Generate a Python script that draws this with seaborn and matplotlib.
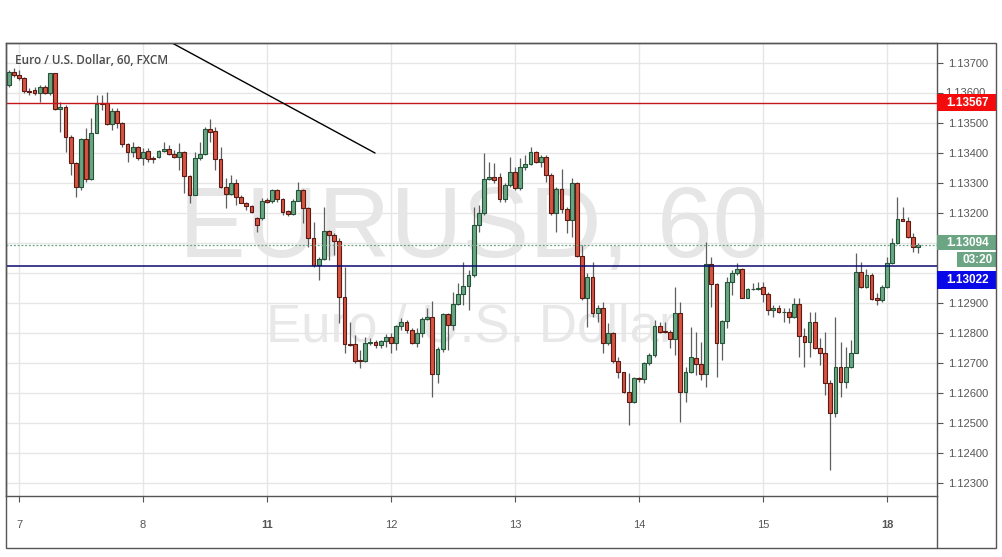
import matplotlib
matplotlib.use("Agg")
import matplotlib.pyplot as plt
from matplotlib.patches import Rectangle
from matplotlib.lines import Line2D
import seaborn as sns
import numpy as np
import pandas as pd

# ---------------- data (EUR/USD, 60 min candles) ----------------
opens = [1.13627, 1.13671, 1.13660, 1.13649, 1.13608, 1.13610, 1.13599, 1.13621, 1.13599, 1.13666,
         1.13546, 1.13554, 1.13452, 1.13366, 1.13286, 1.13446, 1.13312, 1.13468, 1.13568, 1.13568,
         1.13497, 1.13540, 1.13499, 1.13430, 1.13402, 1.13421, 1.13382, 1.13407, 1.13384, 1.13386,
         1.13407, 1.13412, 1.13397, 1.13386, 1.13404, 1.13324, 1.13260, 1.13382, 1.13397, 1.13479,
         1.13473, 1.13379, 1.13286, 1.13262, 1.13299, 1.13252, 1.13234, 1.13223, 1.13182, 1.13182,
         1.13243, 1.13241, 1.13277, 1.13246, 1.13207, 1.13197, 1.13241, 1.13277, 1.13216, 1.13116,
         1.13027, 1.13046, 1.13140, 1.13126, 1.13107, 1.12921, 1.12763, 1.12763, 1.12710, 1.12708,
         1.12766, 1.12769, 1.12760, 1.12773, 1.12788, 1.12766, 1.12824, 1.12838, 1.12810, 1.12766,
         1.12799, 1.12847, 1.12854, 1.12662, 1.12746, 1.12863, 1.12827, 1.12897, 1.12930, 1.12957,
         1.12993, 1.13160, 1.13199, 1.13312, 1.13319, 1.13319, 1.13246, 1.13293, 1.13338, 1.13282,
         1.13354, 1.13362, 1.13404, 1.13371, 1.13386, 1.13327, 1.13199, 1.13279, 1.13212, 1.13177,
         1.13299, 1.13058, 1.12916, 1.12988, 1.12866, 1.12882, 1.12766, 1.12799, 1.12707, 1.12669,
         1.12604, 1.12569, 1.12649, 1.12647, 1.12699, 1.12726, 1.12824, 1.12806, 1.12804, 1.12779,
         1.12866, 1.12602, 1.12669, 1.12718, 1.12696, 1.12662, 1.13029, 1.12962, 1.12766, 1.12840,
         1.12969, 1.12999, 1.13012, 1.12918, 1.12946, 1.12948, 1.12952, 1.12929, 1.12877, 1.12884,
         1.12869, 1.12871, 1.12852, 1.12896, 1.12791, 1.12769, 1.12836, 1.12749, 1.12732, 1.12632,
         1.12532, 1.12688, 1.12636, 1.12688, 1.12734, 1.13002, 1.12954, 1.12993, 1.12916, 1.12910,
         1.12952, 1.13032, 1.13099, 1.13179, 1.13174, 1.13121, 1.13088]

highs = [1.13677, 1.13682, 1.13677, 1.13652, 1.13616, 1.13621, 1.13627, 1.13627, 1.13668, 1.13668,
         1.13571, 1.13560, 1.13460, 1.13371, 1.13449, 1.13482, 1.13516, 1.13593, 1.13593, 1.13604,
         1.13549, 1.13549, 1.13504, 1.13432, 1.13438, 1.13423, 1.13416, 1.13416, 1.13390, 1.13410,
         1.13438, 1.13427, 1.13410, 1.13432, 1.13408, 1.13327, 1.13404, 1.13438, 1.13488, 1.13512,
         1.13488, 1.13421, 1.13316, 1.13327, 1.13312, 1.13260, 1.13238, 1.13227, 1.13188, 1.13249,
         1.13249, 1.13279, 1.13279, 1.13249, 1.13210, 1.13246, 1.13304, 1.13279, 1.13221, 1.13171,
         1.13054, 1.13221, 1.13143, 1.13132, 1.13116, 1.13021, 1.12838, 1.12793, 1.12743, 1.12788,
         1.12782, 1.12777, 1.12777, 1.12797, 1.12799, 1.12827, 1.12849, 1.12843, 1.12816, 1.12816,
         1.12854, 1.12882, 1.12908, 1.12754, 1.12866, 1.12866, 1.12938, 1.12966, 1.13038, 1.13010,
         1.13221, 1.13227, 1.13399, 1.13371, 1.13366, 1.13332, 1.13299, 1.13388, 1.13354, 1.13382,
         1.13393, 1.13419, 1.13408, 1.13393, 1.13393, 1.13332, 1.13288, 1.13346, 1.13221, 1.13316,
         1.13304, 1.13093, 1.12999, 1.13038, 1.12893, 1.12904, 1.12832, 1.12804, 1.12721, 1.12671,
         1.12666, 1.12654, 1.12654, 1.12704, 1.12732, 1.12843, 1.12838, 1.12838, 1.12810, 1.12954,
         1.12904, 1.12688, 1.12821, 1.12804, 1.12771, 1.13104, 1.13054, 1.12966, 1.12843, 1.12988,
         1.13010, 1.13032, 1.13016, 1.12949, 1.12966, 1.12971, 1.12971, 1.12938, 1.12893, 1.12893,
         1.12882, 1.12882, 1.12916, 1.12916, 1.12816, 1.12871, 1.12871, 1.12782, 1.12804, 1.12643,
         1.12854, 1.12771, 1.12754, 1.12777, 1.13068, 1.13038, 1.13012, 1.12999, 1.12932, 1.12960,
         1.13052, 1.13116, 1.13254, 1.13219, 1.13188, 1.13132, 1.13101]

lows = [1.13621, 1.13654, 1.13643, 1.13599, 1.13593, 1.13593, 1.13571, 1.13597, 1.13593, 1.13543,
        1.13471, 1.13404, 1.13327, 1.13254, 1.13277, 1.13304, 1.13310, 1.13466, 1.13543, 1.13493,
        1.13477, 1.13482, 1.13421, 1.13371, 1.13388, 1.13377, 1.13360, 1.13371, 1.13366, 1.13382,
        1.13404, 1.13393, 1.13382, 1.13343, 1.13266, 1.13232, 1.13260, 1.13377, 1.13393, 1.13438,
        1.13343, 1.13282, 1.13216, 1.13260, 1.13227, 1.13232, 1.13210, 1.13199, 1.13138, 1.13177,
        1.13232, 1.13232, 1.13238, 1.13193, 1.13190, 1.13193, 1.13241, 1.13166, 1.13088, 1.13021,
        1.12977, 1.13043, 1.13043, 1.13060, 1.12832, 1.12732, 1.12757, 1.12699, 1.12682, 1.12704,
        1.12760, 1.12749, 1.12749, 1.12754, 1.12732, 1.12743, 1.12810, 1.12799, 1.12763, 1.12754,
        1.12788, 1.12843, 1.12588, 1.12632, 1.12738, 1.12743, 1.12810, 1.12893, 1.12893, 1.12877,
        1.12988, 1.13138, 1.13193, 1.13310, 1.13299, 1.13238, 1.13238, 1.13288, 1.13277, 1.13277,
        1.13343, 1.13360, 1.13366, 1.13354, 1.13304, 1.13193, 1.13138, 1.13199, 1.13132, 1.13121,
        1.13054, 1.12910, 1.12821, 1.12854, 1.12838, 1.12732, 1.12760, 1.12699, 1.12649, 1.12599,
        1.12493, 1.12566, 1.12638, 1.12632, 1.12693, 1.12721, 1.12799, 1.12799, 1.12749, 1.12727,
        1.12504, 1.12571, 1.12666, 1.12660, 1.12643, 1.12621, 1.12888, 1.12654, 1.12710, 1.12816,
        1.12927, 1.12993, 1.12916, 1.12916, 1.12943, 1.12943, 1.12904, 1.12860, 1.12854, 1.12866,
        1.12838, 1.12832, 1.12849, 1.12721, 1.12688, 1.12721, 1.12746, 1.12693, 1.12593, 1.12343,
        1.12521, 1.12588, 1.12616, 1.12682, 1.12732, 1.12949, 1.12951, 1.12910, 1.12893, 1.12904,
        1.12949, 1.13029, 1.13096, 1.13172, 1.13116, 1.13071, 1.13068]

closes = [1.13671, 1.13660, 1.13649, 1.13608, 1.13605, 1.13599, 1.13621, 1.13599, 1.13666, 1.13546,
          1.13554, 1.13452, 1.13366, 1.13286, 1.13446, 1.13312, 1.13468, 1.13562, 1.13562, 1.13497,
          1.13540, 1.13499, 1.13430, 1.13402, 1.13421, 1.13382, 1.13404, 1.13379, 1.13380, 1.13407,
          1.13412, 1.13397, 1.13386, 1.13404, 1.13324, 1.13260, 1.13382, 1.13397, 1.13479, 1.13471,
          1.13379, 1.13286, 1.13262, 1.13299, 1.13252, 1.13234, 1.13223, 1.13204, 1.13160, 1.13241,
          1.13238, 1.13277, 1.13246, 1.13204, 1.13197, 1.13241, 1.13277, 1.13216, 1.13116, 1.13027,
          1.13046, 1.13140, 1.13127, 1.13107, 1.12921, 1.12763, 1.12760, 1.12708, 1.12708, 1.12766,
          1.12769, 1.12760, 1.12773, 1.12788, 1.12766, 1.12824, 1.12838, 1.12810, 1.12766, 1.12799,
          1.12847, 1.12854, 1.12662, 1.12746, 1.12863, 1.12827, 1.12897, 1.12930, 1.12957, 1.12993,
          1.13160, 1.13199, 1.13312, 1.13321, 1.13310, 1.13246, 1.13293, 1.13338, 1.13282, 1.13354,
          1.13362, 1.13404, 1.13371, 1.13386, 1.13327, 1.13199, 1.13279, 1.13212, 1.13177, 1.13299,
          1.13058, 1.12916, 1.12988, 1.12866, 1.12882, 1.12766, 1.12799, 1.12707, 1.12669, 1.12604,
          1.12569, 1.12649, 1.12647, 1.12699, 1.12726, 1.12824, 1.12804, 1.12804, 1.12779, 1.12866,
          1.12602, 1.12669, 1.12719, 1.12696, 1.12662, 1.13029, 1.12962, 1.12766, 1.12840, 1.12969,
          1.12999, 1.13012, 1.12918, 1.12946, 1.12948, 1.12951, 1.12929, 1.12877, 1.12884, 1.12869,
          1.12871, 1.12852, 1.12896, 1.12791, 1.12769, 1.12836, 1.12749, 1.12732, 1.12632, 1.12532,
          1.12688, 1.12636, 1.12688, 1.12734, 1.13002, 1.12954, 1.12993, 1.12912, 1.12910, 1.12952,
          1.13032, 1.13099, 1.13179, 1.13174, 1.13121, 1.13088, 1.13094]

day_labels = ["7", "8", "11", "12", "13", "14", "15", "18"]
monday_labels = ["11", "18"]
candles_before_first_day = 2
candles_per_day = 24

price_tick_labels = ["1.12300", "1.12400", "1.12500", "1.12600", "1.12700", "1.12800", "1.12900",
                     "1.13000", "1.13100", "1.13200", "1.13300", "1.13400", "1.13500", "1.13600",
                     "1.13700"]
# tick labels hidden behind the price boxes in the reference
covered_labels = ["1.13000", "1.13100"]
# tick label that is partly hidden behind the red box
half_covered_label = "1.13600"

resistance_level = 1.13567
support_level = 1.13022
last_price = 1.13094
countdown_text = "03:20"
trend_x = [31.6, 70.9]
trend_y = [1.13767, 1.13400]

title_text = "Euro / U.S. Dollar, 60, FXCM"
watermark_big = "EURUSD, 60"
watermark_small = "Euro / U.S. Dollar"

# ---------------- styling ----------------
sns.set_theme(style="white")
plt.rcParams["font.family"] = ["Liberation Sans", "DejaVu Sans"]

UP_FILL, UP_EDGE = "#6ba583", "#225437"
DN_FILL, DN_EDGE = "#d75442", "#5b1a13"
WICK = "#5e5e5e"
FRAME = "#555555"
GRID = "#e6e6e6"
TEXT = "#555555"

W, H = 1002, 557
PL, PR, PT, PB = 6, 937, 43, 496

fig = plt.figure(figsize=(W / 100, H / 100), dpi=100)
fig.patch.set_facecolor("white")
ax = fig.add_axes([PL / W, 1 - PB / H, (PR - PL) / W, (PB - PT) / H])

df = pd.DataFrame({"open": opens, "high": highs, "low": lows, "close": closes})
df["x"] = np.arange(len(df))
df["up"] = df["close"] >= df["open"]

ymin, ymax = 1.122567, 1.137667
ax.set_ylim(ymin, ymax)
ax.set_xlim(-0.52, 179.66)
px = (ymax - ymin) / (PB - PT)  # price per pixel

# wicks
lo = np.minimum(df["low"], np.minimum(df["open"], df["close"]))
hi = np.maximum(df["high"], np.maximum(df["open"], df["close"]))
ax.vlines(df["x"], lo, hi, color=WICK, lw=0.9, zorder=3)

# bodies
for up, fill, edge in [(True, UP_FILL, UP_EDGE), (False, DN_FILL, DN_EDGE)]:
    d = df[df["up"] == up]
    bottom = np.minimum(d["open"], d["close"])
    height = np.maximum(np.abs(d["close"] - d["open"]), px * 0.6)
    ax.bar(d["x"], height, bottom=bottom, width=0.74, color=fill,
           edgecolor=edge, linewidth=0.8, zorder=4)

# horizontal levels
ax.axhline(resistance_level, color="#c4161c", lw=1.0, zorder=5)
ax.axhline(support_level, color="#0a0a70", lw=1.1, zorder=5)
ax.axhline(last_price, color="#6ba583", lw=0.9, ls=(0, (1.5, 1.5)), zorder=5)

# trend line
sns.lineplot(x=trend_x, y=trend_y, ax=ax, color="black", lw=1.0, zorder=6)

# grid and ticks
tick_pos = [candles_before_first_day + k * candles_per_day for k in range(len(day_labels))]
ax.set_xticks(tick_pos)
ax.set_xticklabels(day_labels)
for lbl in ax.get_xticklabels():
    lbl.set_fontweight("bold" if lbl.get_text() in monday_labels else "normal")
ytick_vals = [float(s) for s in price_tick_labels]
shown = ["" if (s in covered_labels or s == half_covered_label) else s for s in price_tick_labels]
ax.set_yticks(ytick_vals)
ax.set_yticklabels(shown)
ax.yaxis.tick_right()
ax.tick_params(axis="y", right=True, left=False, length=4, width=0.8, color=FRAME,
               pad=4, labelsize=8, labelcolor=TEXT)
ax.tick_params(axis="x", bottom=True, length=4, width=0.8, color=FRAME,
               pad=13, labelsize=8, labelcolor=TEXT)
ax.grid(True, color=GRID, lw=1.0)
ax.set_axisbelow(True)
for s in ax.spines.values():
    s.set_color(FRAME)
    s.set_linewidth(1.0)
ax.set_xlabel("")
ax.set_ylabel("")

# watermarks
ax.text(473.5 / W, 1 - 257 / H, watermark_big, transform=fig.transFigure, ha="center",
        va="baseline", fontsize=72, color="#e6e6e6", zorder=0.1, family="Liberation Sans")
ax.text(471 / W, 1 - 341 / H, watermark_small, transform=fig.transFigure, ha="center",
        va="baseline", fontsize=38, color="#e8e8e8", zorder=0.1, family="Liberation Sans")

# title
fig.text(15 / W, 1 - 60.5 / H, title_text, ha="left", va="center", fontsize=8.5,
         fontweight="semibold", color="#4a4a4a", family=["Open Sans", "DejaVu Sans"])

# right-hand price labels
tr = ax.get_yaxis_transform()
box_w = (996 - PR) / (PR - PL)
label_x = 1.0 + 8 / (PR - PL)

# partly hidden tick label (only its top shows above the red box)
half_val = float(half_covered_label)
half_txt = ax.text(label_x, half_val, half_covered_label, transform=tr, ha="left",
                   va="center", fontsize=8, color=TEXT, clip_on=True, zorder=9)
clip_rect = Rectangle((1.0, resistance_level + 8.5 * px), box_w, 30 * px, transform=tr,
                      facecolor="none", edgecolor="none")
ax.add_patch(clip_rect)
clip_rect.set_clip_on(False)
half_txt.set_clip_path(clip_rect)


def price_box(center, text, color, x0=1.0, h_px=17):
    h = h_px * px
    ax.add_patch(Rectangle((x0, center - h / 2), 1.0 + box_w - x0, h, transform=tr,
                           facecolor=color, edgecolor="none", clip_on=False, zorder=10))
    ax.text(x0 + (1.0 + box_w - x0) / 2 + 0.001, center, text, transform=tr, ha="center",
            va="center", fontsize=8.5, fontweight="bold", color="white", clip_on=False,
            zorder=11)


price_box(resistance_level, f"{resistance_level:.5f}", "#f40c0c")
price_box(last_price + 2 * px, f"{last_price:.5f}", "#6ba583", h_px=15)
price_box(last_price - 15 * px, countdown_text, "#6ba583",
          x0=1.0 + (957 - PR) / (PR - PL), h_px=15)
price_box(support_level - 13.5 * px, f"{support_level:.5f}", "#0808e8", h_px=18)

# outer frame of the chart widget
fig.add_artist(Rectangle((PL / W, 1 - 548 / H), (996 - PL) / W, (548 - PT) / H,
                         transform=fig.transFigure, fill=False, edgecolor=FRAME, lw=1.0))
fig.add_artist(Line2D([PR / W, PR / W], [1 - 548 / H, 1 - PB / H], transform=fig.transFigure,
                      color=FRAME, lw=1.0))

fig.savefig("out.png", dpi=100, facecolor="white")
